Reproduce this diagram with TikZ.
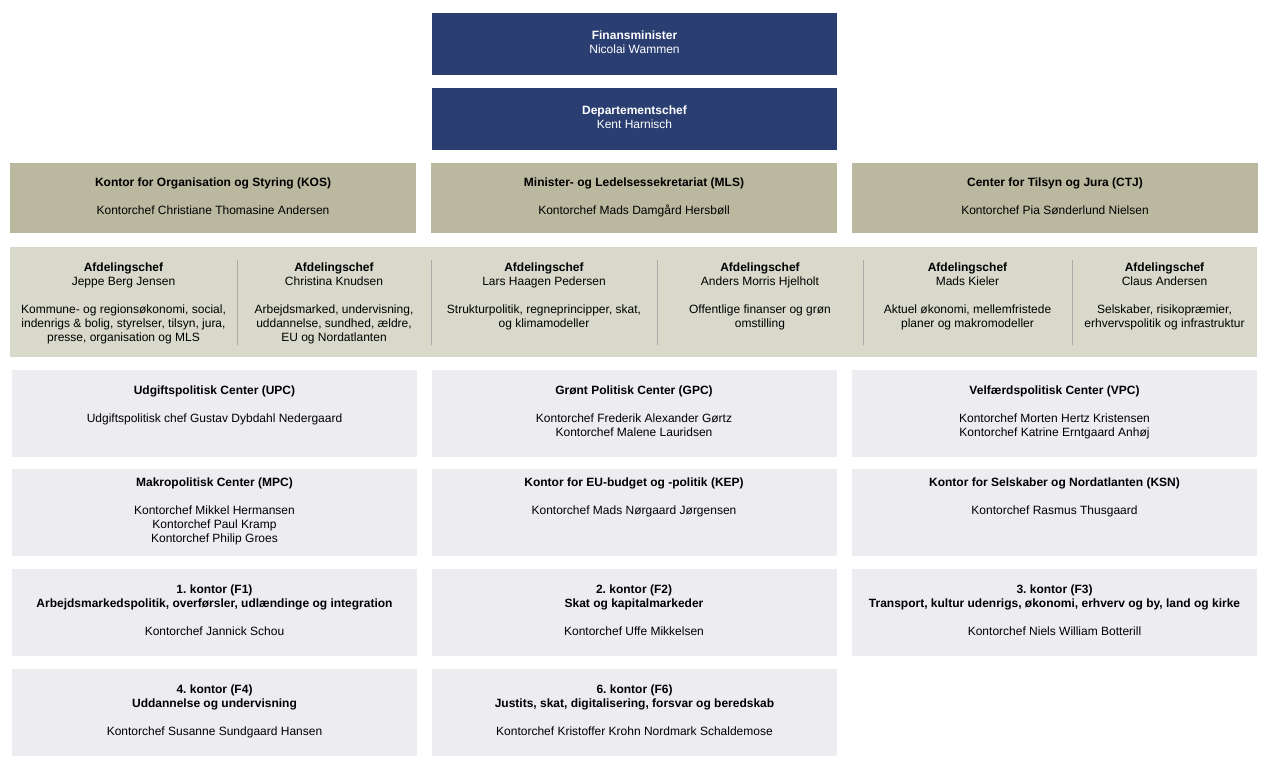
\documentclass[tikz,border=0pt]{standalone}
\usepackage{fontspec}
\setmainfont{Liberation Sans}
\frenchspacing

\definecolor{fmNavy}{RGB}{42,62,114}
\definecolor{fmKhaki}{RGB}{186,185,160}
\definecolor{fmBand}{RGB}{216,216,203}
\definecolor{fmLight}{RGB}{237,236,241}
\definecolor{fmRule}{RGB}{170,170,170}

\begin{document}
\begin{tikzpicture}[x=1pt, y=-1pt,
  every node/.style={font=\fontsize{12}{14}\selectfont\frenchspacing, inner sep=0pt, align=center,
    execute at begin node=\rule{0pt}{14pt}, execute at end node=\strut},
  topbox/.style={fill=fmNavy, text=white, minimum width=405pt, minimum height=62pt},
  officebox/.style={fill=fmKhaki, minimum width=406pt, minimum height=70pt},
  unitbox/.style={fill=fmLight, minimum width=405pt, minimum height=87pt},
  chefcol/.style={anchor=north},
  divider/.style={fmRule, line width=0.8pt}]

% Canvas
\useasboundingbox (0,0) rectangle (1280,769);

% Column centres and band top
\def\colL{214.5}
\def\colM{634}
\def\colR{1054.5}
\def\chefTop{262.5}

% Top management
\node[topbox] (minister) at (634.5,44) {\textbf{Finansminister}\\ Nicolai Wammen};
\node[topbox] (depchef) at (634.5,119) {\textbf{Departementschef}\\ Kent Harnisch};

% Staff offices
\node[officebox] (kos) at (213,198) {\textbf{Kontor for Organisation og Styring (KOS)}\\[14pt] Kontorchef Christiane Thomasine Andersen};
\node[officebox] (mls) at (634,198) {\textbf{Minister- og Ledelsessekretariat (MLS)}\\[14pt] Kontorchef Mads Damgård Hersbøll};
\node[officebox] (ctj) at (1055,198) {\textbf{Center for Tilsyn og Jura (CTJ)}\\[14pt] Kontorchef Pia Sønderlund Nielsen};

% Afdelingschefer
\node[fill=fmBand, minimum width=1247pt, minimum height=110pt, execute at begin node={}, execute at end node={}] (band) at (633.5,302) {};
\node[chefcol] (afd1) at (123.5,\chefTop) {\textbf{Afdelingschef}\\ Jeppe Berg Jensen\\[14pt] Kommune- og regionsøkonomi, social,\\ indenrigs \& bolig, styrelser, tilsyn, jura,\\ presse, organisation og MLS};
\node[chefcol] (afd2) at (334,\chefTop) {\textbf{Afdelingschef}\\ Christina Knudsen\\[14pt] Arbejdsmarked, undervisning,\\ uddannelse, sundhed, ældre,\\ EU og Nordatlanten};
\node[chefcol] (afd3) at (544,\chefTop) {\textbf{Afdelingschef}\\ Lars Haagen Pedersen\\[14pt] Strukturpolitik, regneprincipper, skat,\\ og klimamodeller};
\node[chefcol] (afd4) at (760,\chefTop) {\textbf{Afdelingschef}\\ Anders Morris Hjelholt\\[14pt] Offentlige finanser og grøn\\ omstilling};
\node[chefcol] (afd5) at (967.5,\chefTop) {\textbf{Afdelingschef}\\ Mads Kieler\\[14pt] Aktuel økonomi, mellemfristede\\ planer og makromodeller};
\node[chefcol] (afd6) at (1164.5,\chefTop) {\textbf{Afdelingschef}\\ Claus Andersen\\[14pt] Selskaber, risikopræmier,\\ erhvervspolitik og infrastruktur};
\foreach \x in {237,431,657,863,1072}
  \draw[divider] (\x,260) -- (\x,345);

% Centre and offices
\node[unitbox] (upc) at (\colL,413.5) {\textbf{Udgiftspolitisk Center (UPC)}\\[14pt] Udgiftspolitisk chef Gustav Dybdahl Nedergaard\\ };
\node[unitbox] (gpc) at (\colM,413.5) {\textbf{Grønt Politisk Center (GPC)}\\[14pt] Kontorchef Frederik Alexander Gørtz\\ Kontorchef Malene Lauridsen};
\node[unitbox] (vpc) at (\colR,413.5) {\textbf{Velfærdspolitisk Center (VPC)}\\[14pt] Kontorchef Morten Hertz Kristensen\\ Kontorchef Katrine Erntgaard Anhøj};

\node[unitbox] (mpc) at (\colL,512.5) {\textbf{Makropolitisk Center (MPC)}\\[14pt] Kontorchef Mikkel Hermansen\\ Kontorchef Paul Kramp\\ Kontorchef Philip Groes};
\node[unitbox] (kep) at (\colM,512.5) {\textbf{Kontor for EU-budget og -politik (KEP)}\\[14pt] Kontorchef Mads Nørgaard Jørgensen\\ \\ };
\node[unitbox] (ksn) at (\colR,512.5) {\textbf{Kontor for Selskaber og Nordatlanten (KSN)}\\[14pt] Kontorchef Rasmus Thusgaard\\ \\ };

\node[unitbox] (f1) at (\colL,612) {\textbf{1. kontor (F1)}\\ \textbf{Arbejdsmarkedspolitik, overførsler, udlændinge og integration}\\[14pt] Kontorchef Jannick Schou};
\node[unitbox] (f2) at (\colM,612) {\textbf{2. kontor (F2)}\\ \textbf{Skat og kapitalmarkeder}\\[14pt] Kontorchef Uffe Mikkelsen};
\node[unitbox] (f3) at (\colR,612) {\textbf{3. kontor (F3)}\\ \textbf{Transport, kultur udenrigs, økonomi, erhverv og by, land og kirke}\\[14pt] Kontorchef Niels William Botterill};

\node[unitbox] (f4) at (\colL,712.5) {\textbf{4. kontor (F4)}\\ \textbf{Uddannelse og undervisning}\\[14pt] Kontorchef Susanne Sundgaard Hansen};
\node[unitbox] (f6) at (634.5,712.5) {\textbf{6. kontor (F6)}\\ \textbf{Justits, skat, digitalisering, forsvar og beredskab}\\[14pt] Kontorchef Kristoffer Krohn Nordmark Schaldemose};

\end{tikzpicture}
\end{document}
